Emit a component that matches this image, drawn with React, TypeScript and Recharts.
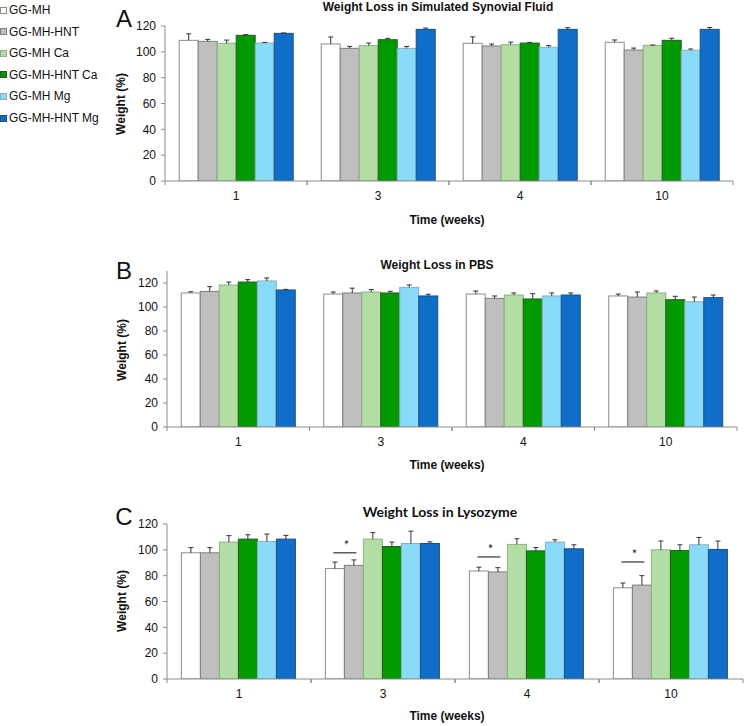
import React from 'react';
import { BarChart, Bar, XAxis, YAxis } from 'recharts';

const weeks = ['1', '3', '4', '10'];
const groupNames = ['GG-MH', 'GG-MH-HNT', 'GG-MH Ca', 'GG-MH-HNT Ca', 'GG-MH Mg', 'GG-MH-HNT Mg'];
const groupFills = ['#ffffff', '#bfbfbf', '#b3dea3', '#009900', '#88dcfa', '#0e6ec8'];
const groupStrokes = ['#8c8c8c', '#7f7f7f', '#8fb08a', '#2a5a2a', '#8aaebd', '#1c4f86'];

// rows = groups, columns = weeks
const synovialMeans = [
  [108.9, 106.1, 106.6, 107.4],
  [108.1, 102.7, 104.5, 101.4],
  [106.6, 104.8, 105.5, 105.0],
  [112.8, 109.4, 106.8, 108.9],
  [106.8, 102.7, 103.5, 101.2],
  [114.3, 117.4, 117.4, 117.4],
];
const synovialErrors = [
  [5.0, 5.4, 5.0, 1.8],
  [1.5, 1.5, 1.5, 1.5],
  [2.5, 2.0, 2.0, 0.3],
  [0.5, 1.0, 0.5, 1.6],
  [0.5, 1.5, 1.3, 1.0],
  [0.3, 1.0, 1.3, 1.5],
];
const pbsMeans = [
  [111.7, 110.8, 110.8, 109.2],
  [113.0, 111.7, 107.2, 108.3],
  [118.3, 112.5, 110.0, 111.7],
  [120.8, 111.7, 106.7, 106.1],
  [121.7, 116.4, 109.2, 104.4],
  [114.2, 109.2, 110.0, 107.8],
];
const pbsErrors = [
  [1.0, 1.7, 2.5, 1.6],
  [4.0, 4.0, 2.0, 4.2],
  [2.5, 2.0, 1.7, 1.7],
  [2.0, 1.4, 4.4, 2.8],
  [2.5, 2.0, 2.5, 3.9],
  [0.5, 1.4, 1.7, 2.2],
];
const lysozymeMeans = [
  [97.7, 85.5, 83.6, 70.6],
  [97.7, 88.0, 82.9, 72.7],
  [106.0, 108.3, 104.2, 100.0],
  [108.3, 102.6, 99.2, 99.5],
  [106.5, 104.9, 106.0, 103.9],
  [108.3, 104.9, 100.8, 100.3],
];
const lysozymeErrors = [
  [4.0, 5.0, 3.0, 3.7],
  [4.0, 4.2, 3.3, 7.3],
  [5.0, 5.0, 4.4, 6.8],
  [3.4, 3.4, 2.6, 4.4],
  [5.7, 9.6, 1.8, 5.7],
  [2.9, 1.3, 3.1, 6.5],
];
// level of the significance bracket (null = none)
const lysozymeSignificance = [null, 97.7, 94.5, 90.6];

const yTicks = [0, 20, 40, 60, 80, 100, 120];

const FONT = '"Liberation Sans", Arial, sans-serif';
const AXIS = '#8c8c8c';

function buildRows(means: number[][], errors: number[][], sig?: (number | null)[]) {
  return weeks.map((week, i) => {
    const row: any = { week, sig: sig ? sig[i] : null };
    means.forEach((m, g) => {
      row['g' + g] = m[i];
      row['e' + g] = errors[g][i];
    });
    return row;
  });
}

const WeekTick = (props: any) => {
  const { x, y, payload } = props;
  const half = payload.offset ?? 0;
  return (
    <g>
      <line x1={x - half} x2={x - half} y1={y} y2={y + 4} stroke={AXIS} />
      <line x1={x + half} x2={x + half} y1={y} y2={y + 4} stroke={AXIS} />
      <text x={x} y={y + 15} textAnchor="middle" dominantBaseline="central" fontSize={12} fontFamily={FONT} fill="#111">
        {payload.value}
      </text>
    </g>
  );
};

// bar + upward error whisker; group 1 in the lysozyme panel also gets the significance bracket
const BarShape = (props: any) => {
  const { x, y, width, height, fill, stroke, payload, g, withSig } = props;
  const base = y + height;
  const per = height / payload['g' + g];
  const errTop = y - payload['e' + g] * per;
  const cx = x + width / 2;
  const sig = withSig && g === 1 ? payload.sig : null;
  return (
    <g>
      <rect x={x} y={y} width={width} height={height} fill={fill} stroke={stroke} />
      <line x1={cx} x2={cx} y1={y} y2={errTop} stroke="#333" />
      <line x1={cx - 2.5} x2={cx + 2.5} y1={errTop} y2={errTop} stroke="#333" />
      {sig != null && (
        <g>
          <line x1={x - width + 8} x2={x + 12} y1={base - sig * per} y2={base - sig * per} stroke="#333" strokeWidth={1.2} />
          <text x={x + 2} y={base - sig * per - 8} textAnchor="middle" dominantBaseline="central" fontSize={13} fontFamily="Lato, sans-serif" fill="#222">
            *
          </text>
        </g>
      )}
    </g>
  );
};

type PanelProps = {
  top: number;
  plotTop: number;
  plotBottom: number;
  plotLeft: number;
  plotRight: number;
  yMax: number;
  rows: any[];
  sig?: boolean;
};

function Panel({ top, plotTop, plotBottom, plotLeft, plotRight, yMax, rows, sig }: PanelProps) {
  const height = plotBottom - top + 30;
  return (
    <div style={{ position: 'absolute', left: 0, top, width: 744, height }}>
      <BarChart
        width={744}
        height={height}
        data={rows}
        margin={{ top: plotTop - top, right: 744 - plotRight, left: 0, bottom: 0 }}
        barCategoryGap="10%"
        barGap={0}
      >
        <XAxis dataKey="week" height={30} stroke={AXIS} tickLine={false} tickSize={0} tickMargin={0} tick={<WeekTick />} interval={0} />
        <YAxis
          width={plotLeft}
          domain={[0, yMax]}
          ticks={yTicks}
          stroke={AXIS}
          tickSize={4}
          tickMargin={5}
          tick={{ fill: '#111', fontSize: 12, fontFamily: FONT }}
          allowDataOverflow
        />
        {groupNames.map((name, g) => (
          <Bar
            key={name}
            dataKey={'g' + g}
            fill={groupFills[g]}
            stroke={groupStrokes[g]}
            strokeWidth={1}
            isAnimationActive={false}
            shape={(p: any) => <BarShape {...p} g={g} withSig={sig} />}
          />
        ))}
      </BarChart>
    </div>
  );
}

const Label = ({ x, y, children, style }: any) => (
  <div
    style={{
      position: 'absolute',
      left: x,
      top: y,
      transform: 'translate(-50%, -50%)',
      whiteSpace: 'nowrap',
      fontFamily: FONT,
      color: '#111',
      ...style,
    }}
  >
    {children}
  </div>
);

const YTitle = ({ x, y }: any) => (
  <div
    style={{
      position: 'absolute',
      left: x,
      top: y,
      transform: 'translate(-50%, -50%) rotate(-90deg)',
      whiteSpace: 'nowrap',
      fontFamily: FONT,
      fontWeight: 'bold',
      fontSize: 12,
      color: '#111',
    }}
  >
    Weight (%)
  </div>
);

export default function App() {
  const synovialRows = buildRows(synovialMeans, synovialErrors);
  const pbsRows = buildRows(pbsMeans, pbsErrors);
  const lysozymeRows = buildRows(lysozymeMeans, lysozymeErrors, lysozymeSignificance);

  return (
    <div style={{ position: 'absolute', left: 0, top: 0, width: 744, height: 726, background: '#fff', overflow: 'hidden' }}>
      {/* legend */}
      {groupNames.map((name, g) => (
        <div
          key={name}
          style={{
            position: 'absolute',
            left: 0,
            top: 10 + g * 21.6 - 8,
            height: 16,
            display: 'flex',
            alignItems: 'center',
            fontFamily: FONT,
            fontSize: 12,
            color: '#111',
            whiteSpace: 'nowrap',
          }}
        >
          <span
            style={{
              display: 'inline-block',
              width: 5,
              height: 5,
              background: groupFills[g],
              border: '1px solid ' + groupStrokes[g],
              marginRight: 2,
            }}
          />
          {name}
        </div>
      ))}

      <Panel top={16} plotTop={26} plotBottom={181} plotLeft={165} plotRight={733} yMax={120} rows={synovialRows} />
      <Panel top={262} plotTop={271} plotBottom={427} plotLeft={167} plotRight={737} yMax={130} rows={pbsRows} />
      <Panel top={514} plotTop={524} plotBottom={679} plotLeft={167} plotRight={743} yMax={120} rows={lysozymeRows} sig />

      <Label x={438} y={7} style={{ fontWeight: 'bold', fontSize: 12 }}>Weight Loss in Simulated Synovial Fluid</Label>
      <Label x={437} y={265} style={{ fontWeight: 'bold', fontSize: 12 }}>Weight Loss in PBS</Label>
      <Label x={440} y={511} style={{ fontWeight: 'bold', fontSize: 14, fontFamily: 'Lato, sans-serif' }}>Weight Loss in Lysozyme</Label>

      <Label x={124} y={19} style={{ fontSize: 24 }}>A</Label>
      <Label x={124} y={271} style={{ fontSize: 24 }}>B</Label>
      <Label x={124} y={517} style={{ fontSize: 24 }}>C</Label>

      <YTitle x={121} y={104} />
      <YTitle x={122} y={350} />
      <YTitle x={122} y={601} />

      <Label x={447} y={220} style={{ fontWeight: 'bold', fontSize: 12 }}>Time (weeks)</Label>
      <Label x={447} y={465} style={{ fontWeight: 'bold', fontSize: 12 }}>Time (weeks)</Label>
      <Label x={447} y={716} style={{ fontWeight: 'bold', fontSize: 12 }}>Time (weeks)</Label>
    </div>
  );
}
